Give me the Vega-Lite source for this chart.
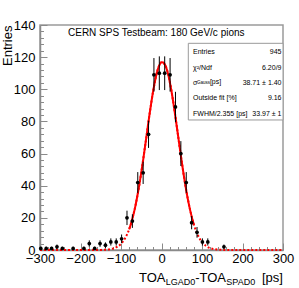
{
  "$schema": "https://vega.github.io/schema/vega-lite/v6.json",
  "width": 243,
  "height": 225,
  "autosize": "none",
  "padding": {"left": 40, "top": 25, "right": 16, "bottom": 38},
  "background": "white",
  "config": {"view": {"stroke": "#9a9a9a", "strokeWidth": 1.5}, "font": "Liberation Sans", "axis": {"labelOverlap": false, "labelFlush": false}},
  "datasets": {
    "hist": [
      {"x": -298.0, "n": 1, "lo": 0, "hi": 2},
      {"x": -284.7, "n": 1, "lo": 0, "hi": 2},
      {"x": -271.4, "n": 1, "lo": 0, "hi": 2},
      {"x": -258.1, "n": 2, "lo": 0.59, "hi": 3.41},
      {"x": -244.8, "n": 1, "lo": 0, "hi": 2},
      {"x": -218.2, "n": 1, "lo": 0, "hi": 2},
      {"x": -191.6, "n": 1, "lo": 0, "hi": 2},
      {"x": -178.3, "n": 4, "lo": 2, "hi": 6},
      {"x": -165.0, "n": 1, "lo": 0, "hi": 2},
      {"x": -151.7, "n": 4, "lo": 2, "hi": 6},
      {"x": -138.4, "n": 3, "lo": 1.27, "hi": 4.73},
      {"x": -125.1, "n": 5, "lo": 2.76, "hi": 7.24},
      {"x": -111.8, "n": 5, "lo": 2.76, "hi": 7.24},
      {"x": -98.5, "n": 7, "lo": 4.35, "hi": 9.65},
      {"x": -85.2, "n": 20, "lo": 15.53, "hi": 24.47},
      {"x": -71.9, "n": 18, "lo": 13.76, "hi": 22.24},
      {"x": -58.6, "n": 42, "lo": 35.52, "hi": 48.48},
      {"x": -45.3, "n": 48, "lo": 41.07, "hi": 54.93},
      {"x": -32.0, "n": 72, "lo": 63.51, "hi": 80.49},
      {"x": -18.7, "n": 109, "lo": 98.56, "hi": 119.44},
      {"x": -5.4, "n": 110, "lo": 99.51, "hi": 120.49},
      {"x": 7.9, "n": 110, "lo": 99.51, "hi": 120.49},
      {"x": 21.2, "n": 109, "lo": 98.56, "hi": 119.44},
      {"x": 34.5, "n": 89, "lo": 79.57, "hi": 98.43},
      {"x": 47.8, "n": 60, "lo": 52.25, "hi": 67.75},
      {"x": 61.1, "n": 42, "lo": 35.52, "hi": 48.48},
      {"x": 74.4, "n": 17, "lo": 12.88, "hi": 21.12},
      {"x": 87.7, "n": 11, "lo": 7.68, "hi": 14.32},
      {"x": 101.0, "n": 5, "lo": 2.76, "hi": 7.24},
      {"x": 114.3, "n": 5, "lo": 2.76, "hi": 7.24},
      {"x": 154.2, "n": 2, "lo": 0.59, "hi": 3.41}
    ],
    "fit": [
      {"x": -80, "f": 12.8}, {"x": -75, "f": 16.7}, {"x": -70, "f": 21.3}, {"x": -65, "f": 26.7},
      {"x": -60, "f": 33.1}, {"x": -55, "f": 40.2}, {"x": -50, "f": 48.1}, {"x": -45, "f": 56.6},
      {"x": -40, "f": 65.5}, {"x": -35, "f": 74.6}, {"x": -30, "f": 83.6}, {"x": -25, "f": 92.1},
      {"x": -20, "f": 99.8}, {"x": -15, "f": 106.4}, {"x": -10, "f": 111.6}, {"x": -5, "f": 115.1},
      {"x": 0, "f": 116.8}, {"x": 5, "f": 116.7}, {"x": 10, "f": 114.6}, {"x": 15, "f": 110.7},
      {"x": 20, "f": 105.2}, {"x": 25, "f": 98.3}, {"x": 30, "f": 90.4}, {"x": 35, "f": 81.8},
      {"x": 40, "f": 72.8}, {"x": 45, "f": 63.7}, {"x": 50, "f": 54.9}, {"x": 55, "f": 46.5},
      {"x": 60, "f": 38.7}, {"x": 65, "f": 31.7}, {"x": 70, "f": 25.6}, {"x": 75, "f": 20.3},
      {"x": 80, "f": 15.8}
    ],
    "full": [
      {"x": -300, "f": 0}, {"x": -280, "f": 0}, {"x": -260, "f": 0}, {"x": -240, "f": 0},
      {"x": -220, "f": 0}, {"x": -200, "f": 0}, {"x": -180, "f": 0}, {"x": -160, "f": 0.02},
      {"x": -150, "f": 0.06}, {"x": -140, "f": 0.15}, {"x": -130, "f": 0.38}, {"x": -120, "f": 0.88},
      {"x": -110, "f": 1.89}, {"x": -100, "f": 3.83}, {"x": -90, "f": 7.24}, {"x": -80, "f": 12.8},
      {"x": -70, "f": 21.3}, {"x": -60, "f": 33.1}, {"x": -50, "f": 48.1}, {"x": -40, "f": 65.5},
      {"x": -30, "f": 83.6}, {"x": -20, "f": 99.8}, {"x": -10, "f": 111.6}, {"x": 0, "f": 116.8},
      {"x": 10, "f": 114.6}, {"x": 20, "f": 105.2}, {"x": 30, "f": 90.4}, {"x": 40, "f": 72.8},
      {"x": 50, "f": 54.9}, {"x": 60, "f": 38.7}, {"x": 70, "f": 25.6}, {"x": 80, "f": 15.8},
      {"x": 90, "f": 9.17}, {"x": 100, "f": 4.98}, {"x": 110, "f": 2.53}, {"x": 120, "f": 1.2},
      {"x": 130, "f": 0.54}, {"x": 140, "f": 0.22}, {"x": 150, "f": 0.09}, {"x": 160, "f": 0.03},
      {"x": 180, "f": 0}, {"x": 200, "f": 0}, {"x": 220, "f": 0}, {"x": 240, "f": 0},
      {"x": 260, "f": 0}, {"x": 280, "f": 0}, {"x": 300, "f": 0}
    ]
  },
  "resolve": {"axis": {"x": "independent", "y": "independent"}},
  "layer": [
    {
      "data": {"name": "hist"},
      "mark": {"type": "point", "opacity": 0},
      "encoding": {
        "x": {
          "field": "x", "type": "quantitative",
          "scale": {"domain": [-300, 300], "nice": false, "zero": false},
          "axis": {
            "orient": "bottom",
            "values": [-280,-260,-240,-220,-180,-160,-140,-120,-80,-60,-40,-20,20,40,60,80,120,140,160,180,220,240,260,280],
            "labels": false, "domain": false, "grid": false, "title": null,
            "tickSize": -3.5, "tickColor": "#8a8a8a", "tickWidth": 1
          }
        },
        "y": {
          "field": "n", "type": "quantitative",
          "scale": {"domain": [0, 140], "nice": false, "zero": false},
          "axis": {
            "orient": "left",
            "values": [4,8,12,16,24,28,32,36,44,48,52,56,64,68,72,76,84,88,92,96,104,108,112,116,124,128,132,136],
            "labels": false, "domain": false, "grid": false, "title": null,
            "tickSize": -3.5, "tickColor": "#8a8a8a", "tickWidth": 1
          }
        }
      }
    },
    {
      "data": {"name": "hist"},
      "mark": {"type": "point", "opacity": 0},
      "encoding": {
        "y": {
          "field": "hi", "type": "quantitative",
          "scale": {"domain": [0, 140], "nice": false, "zero": false},
          "axis": {
            "orient": "left",
            "values": [20, 60, 100, 140],
            "tickSize": -7, "tickColor": "#8a8a8a", "tickWidth": 1,
            "domain": false, "grid": false, "title": null,
            "labelFont": "Liberation Sans", "labelFontSize": 13, "labelColor": "black",
            "labelPadding": 12, "labelFlush": false, "labelOverlap": false
          }
        }
      }
    },
    {
      "layer": [
        {
          "data": {"name": "full"},
          "mark": {"type": "line", "color": "#ff0000", "strokeWidth": 2, "strokeDash": [2, 2], "interpolate": "monotone"},
          "encoding": {
            "x": {
              "field": "x", "type": "quantitative",
              "scale": {"domain": [-300, 300], "nice": false, "zero": false},
              "axis": {
                "orient": "bottom",
                "values": [-300, -200, -100, 0, 100, 200, 300],
                "tickSize": -7, "tickColor": "#8a8a8a", "tickWidth": 1,
                "domain": true, "domainColor": "#8a8a8a", "domainWidth": 1.5,
                "grid": false, "title": null,
                "labelFont": "Liberation Sans", "labelFontSize": 13, "labelColor": "black",
                "labelPadding": 9, "labelFlush": false, "labelOverlap": false
              }
            },
            "y": {
              "field": "f", "type": "quantitative",
              "scale": {"domain": [0, 140], "nice": false, "zero": false},
              "axis": {
                "orient": "left",
                "values": [0, 40, 80, 120],
                "tickSize": -7, "tickColor": "#8a8a8a", "tickWidth": 1,
                "domain": true, "domainColor": "#8a8a8a", "domainWidth": 1.5,
                "grid": false,
                "labelFont": "Liberation Sans", "labelFontSize": 13, "labelColor": "black",
                "labelPadding": 12, "labelFlush": false, "labelOverlap": false,
                "title": "Entries", "titleFont": "Liberation Sans", "titleFontSize": 13, "titleFontWeight": "normal",
                "titleColor": "black", "titleAnchor": "end", "titleAlign": "right", "titleBaseline": "alphabetic", "titlePadding": 2
              }
            }
          }
        },
        {
          "data": {"name": "fit"},
          "mark": {"type": "line", "color": "#ff0000", "strokeWidth": 2, "interpolate": "monotone"},
          "encoding": {
            "x": {"field": "x", "type": "quantitative"},
            "y": {"field": "f", "type": "quantitative"}
          }
        },
        {
          "data": {"name": "hist"},
          "mark": {"type": "rule", "color": "black", "strokeWidth": 1},
          "encoding": {
            "x": {"field": "x", "type": "quantitative"},
            "y": {"field": "lo", "type": "quantitative"},
            "y2": {"field": "hi"}
          }
        },
        {
          "data": {"name": "hist"},
          "mark": {"type": "circle", "color": "black", "size": 14, "opacity": 1},
          "encoding": {
            "x": {"field": "x", "type": "quantitative"},
            "y": {"field": "n", "type": "quantitative"}
          }
        },
        {
          "data": {"values": [{}]},
          "mark": {"type": "rect", "fill": "white", "stroke": "#9a9a9a", "strokeWidth": 1},
          "encoding": {
            "x": {"datum": 66.2, "type": "quantitative"},
            "x2": {"datum": 300},
            "y": {"datum": 128.6, "type": "quantitative"},
            "y2": {"datum": 80.9}
          }
        },
        {
          "data": {"values": [{}]},
          "mark": {"type": "text", "text": "CERN SPS Testbeam: 180 GeV/c pions", "font": "Liberation Sans", "fontSize": 10, "align": "left", "baseline": "middle", "color": "black"},
          "encoding": {
            "x": {"datum": -230.9, "type": "quantitative"},
            "y": {"datum": 134.8, "type": "quantitative"}
          }
        },
        {
          "data": {"values": [{}]},
          "mark": {"type": "text", "text": ["Entries", "χ²/Ndf", "σ", "Outside fit [%]", "FWHM/2.355 [ps]"], "font": "Liberation Sans", "fontSize": 7, "lineHeight": 15.4, "align": "left", "baseline": "alphabetic", "color": "black"},
          "encoding": {
            "x": {"datum": 77.8, "type": "quantitative"},
            "y": {"datum": 121.8, "type": "quantitative"}
          }
        },
        {
          "data": {"values": [{}]},
          "mark": {"type": "text", "text": ["945", "6.20/9", "38.71 ± 1.40", "9.16", "33.97 ± 1"], "font": "Liberation Sans", "fontSize": 7, "lineHeight": 15.4, "align": "right", "baseline": "alphabetic", "color": "black"},
          "encoding": {
            "x": {"datum": 296.3, "type": "quantitative"},
            "y": {"datum": 121.8, "type": "quantitative"}
          }
        },
        {
          "data": {"values": [{}]},
          "mark": {"type": "text", "text": "Gauss", "font": "Liberation Sans", "fontSize": 4.5, "align": "left", "baseline": "alphabetic", "color": "black"},
          "encoding": {
            "x": {"datum": 87.7, "type": "quantitative"},
            "y": {"datum": 103.0, "type": "quantitative"}
          }
        },
        {
          "data": {"values": [{}]},
          "mark": {"type": "text", "text": "[ps]", "font": "Liberation Sans", "fontSize": 7, "align": "left", "baseline": "alphabetic", "color": "black"},
          "encoding": {
            "x": {"datum": 119.5, "type": "quantitative"},
            "y": {"datum": 103.6, "type": "quantitative"}
          }
        },
        {
          "data": {"values": [{}]},
          "mark": {"type": "text", "text": "TOA", "font": "Liberation Sans", "fontSize": 13, "align": "left", "baseline": "alphabetic", "color": "black"},
          "encoding": {
            "x": {"datum": -55.6, "type": "quantitative"},
            "y": {"datum": -19.7, "type": "quantitative"}
          }
        },
        {
          "data": {"values": [{}]},
          "mark": {"type": "text", "text": "LGAD0", "font": "Liberation Sans", "fontSize": 9, "align": "left", "baseline": "alphabetic", "color": "black"},
          "encoding": {
            "x": {"datum": 10.4, "type": "quantitative"},
            "y": {"datum": -21.8, "type": "quantitative"}
          }
        },
        {
          "data": {"values": [{}]},
          "mark": {"type": "text", "text": "-TOA", "font": "Liberation Sans", "fontSize": 13, "align": "left", "baseline": "alphabetic", "color": "black"},
          "encoding": {
            "x": {"datum": 83.2, "type": "quantitative"},
            "y": {"datum": -19.7, "type": "quantitative"}
          }
        },
        {
          "data": {"values": [{}]},
          "mark": {"type": "text", "text": "SPAD0", "font": "Liberation Sans", "fontSize": 9, "align": "left", "baseline": "alphabetic", "color": "black"},
          "encoding": {
            "x": {"datum": 160, "type": "quantitative"},
            "y": {"datum": -21.8, "type": "quantitative"}
          }
        },
        {
          "data": {"values": [{}]},
          "mark": {"type": "text", "text": "[ps]", "font": "Liberation Sans", "fontSize": 13, "align": "left", "baseline": "alphabetic", "color": "black"},
          "encoding": {
            "x": {"datum": 248.1, "type": "quantitative"},
            "y": {"datum": -19.7, "type": "quantitative"}
          }
        }
      ]
    }
  ]
}
